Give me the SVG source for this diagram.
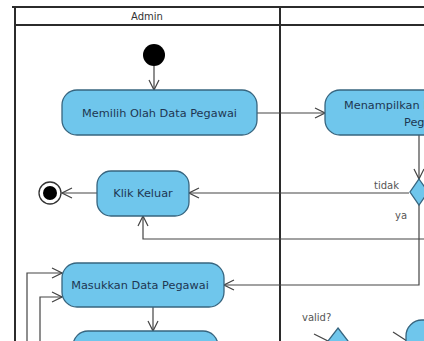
<svg xmlns="http://www.w3.org/2000/svg" width="424" height="341" viewBox="0 0 424 341">
<defs>
<style>
.frame{stroke:#2b2b2b;stroke-width:2;fill:none}
.node{fill:#6fc6ec;stroke:#37657f;stroke-width:1.3}
.ntext{font-family:"DejaVu Sans","Liberation Sans",sans-serif;font-size:11.3px;fill:#1e3652}
.lbl{font-family:"DejaVu Sans","Liberation Sans",sans-serif;font-size:10px;fill:#555}
.conn{stroke:#444;stroke-width:1.2;fill:none}
</style>
<marker id="arr" viewBox="0 0 12 12" refX="11" refY="6" markerWidth="12" markerHeight="12" markerUnits="userSpaceOnUse" orient="auto">
<path d="M1,1 L11,6 L1,11" fill="none" stroke="#444" stroke-width="1.2"/>
</marker>
</defs>
<rect width="424" height="341" fill="#fff"/>
<g id="frame">
<line class="frame" x1="12" y1="7" x2="424" y2="7"/>
<line class="frame" x1="15" y1="7" x2="15" y2="341"/>
<line class="frame" x1="15" y1="25" x2="424" y2="25"/>
<line class="frame" x1="280" y1="7" x2="280" y2="341"/>
<text x="147" y="20" text-anchor="middle" class="lbl" style="fill:#333">Admin</text>
</g>
<g id="connectors">
<line class="conn" x1="154" y1="66" x2="154" y2="90" marker-end="url(#arr)"/>
<line class="conn" x1="257" y1="113" x2="325" y2="113" marker-end="url(#arr)"/>
<line class="conn" x1="419" y1="135" x2="419" y2="179" marker-end="url(#arr)"/>
<line class="conn" x1="409" y1="193" x2="189" y2="193" marker-end="url(#arr)"/>
<line class="conn" x1="97" y1="193" x2="62" y2="193" marker-end="url(#arr)"/>
<polyline class="conn" points="424,239 143,239 143,216" marker-end="url(#arr)"/>
<polyline class="conn" points="419,205 419,285 224,285" marker-end="url(#arr)"/>
<line class="conn" x1="153" y1="307" x2="153" y2="331" marker-end="url(#arr)"/>
<polyline class="conn" points="27,341 27,273 62,273" marker-end="url(#arr)"/>
<polyline class="conn" points="40,341 40,297 62,297" marker-end="url(#arr)"/>
<line class="conn" x1="314" y1="334" x2="330" y2="342"/>
<line class="conn" x1="393" y1="332" x2="407" y2="341"/>
<text x="374" y="189" class="lbl">tidak</text>
<text x="395" y="219" class="lbl">ya</text>
<text x="302" y="321" class="lbl">valid?</text>
</g>
<g id="start">
<circle cx="154" cy="55" r="11" fill="#000"/>
</g>
<g id="n-memilih">
<rect class="node" x="62" y="90" width="195" height="45" rx="15"/>
<text x="159.5" y="117" text-anchor="middle" class="ntext">Memilih Olah Data Pegawai</text>
</g>
<g id="n-menampilkan">
<rect class="node" x="325" y="90" width="200" height="45" rx="15"/>
<text x="344" y="109" class="ntext">Menampilkan Halaman Data</text>
<text x="404" y="126" class="ntext">Pegawai</text>
</g>
<g id="d-decision">
<polygon class="node" points="419,179 428,192 419,205 410,192"/>
</g>
<g id="n-klik">
<rect class="node" x="97" y="171" width="92" height="45" rx="14"/>
<text x="143" y="197" text-anchor="middle" class="ntext">Klik Keluar</text>
</g>
<g id="end">
<circle cx="50" cy="193" r="11" fill="#fff" stroke="#333" stroke-width="1.3"/>
<circle cx="50" cy="193" r="7" fill="#000"/>
</g>
<g id="n-masukkan">
<rect class="node" x="62" y="263" width="162" height="44" rx="15"/>
<text x="140" y="289" text-anchor="middle" class="ntext">Masukkan Data Pegawai</text>
</g>
<g id="n-bottom">
<rect class="node" x="73" y="331" width="145" height="40" rx="15"/>
</g>
<g id="d-valid">
<polygon class="node" points="338,328 348,341 338,354 328,341"/>
</g>
<g id="n-right">
<rect class="node" x="406" y="320" width="60" height="45" rx="16"/>
</g>
</svg>
